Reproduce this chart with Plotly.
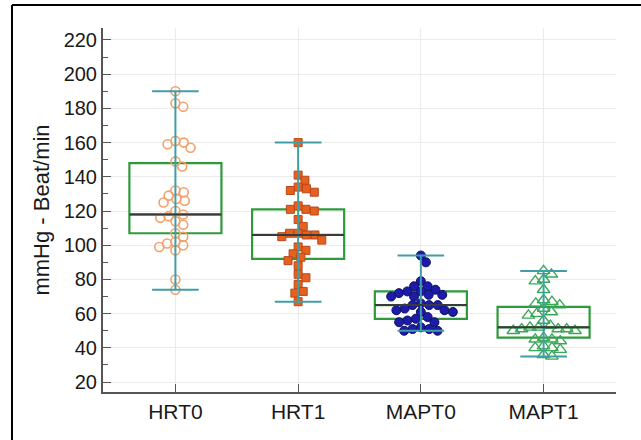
import math
import plotly.graph_objects as go

categories = ["HRT0", "HRT1", "MAPT0", "MAPT1"]

hrt0 = [190, 183, 181, 161, 160, 159, 157, 149, 146, 132, 131, 129, 127, 126, 125,
        120, 118, 117, 116, 114, 112, 107, 105, 102, 101, 100, 99, 97, 80, 74]
hrt1 = [160, 141, 138, 134, 133, 132, 131, 123, 121, 121, 120, 115, 111, 107, 107,
        106, 106, 105, 103, 99, 97, 95, 93, 91, 88, 83, 81, 77, 73, 72, 67]
mapt0 = [94, 90, 79, 76, 76, 74, 73, 73, 72, 71, 71, 70, 70, 66, 65, 65, 65, 63, 62,
         62, 61, 61, 58, 57, 56, 55, 55, 52, 51, 51, 50, 50]
mapt1 = [85, 83, 80, 79, 74, 68, 67, 66, 65, 63, 61, 60, 59, 56, 53, 52, 52, 51, 51,
         51, 50, 50, 46, 45, 45, 44, 41, 40, 40, 39, 36, 35]

# box statistics as drawn
lower_whisker = [74, 67, 50, 35]
q1_vals = [107, 92, 57, 46]
median_vals = [118, 106, 65, 52]
q3_vals = [148, 121, 73, 64]
upper_whisker = [190, 160, 94, 85]

series = [hrt0, hrt1, mapt0, mapt1]

# pixel scale (for swarm layout only)
PX_PER_X = 122.5
PX_PER_Y = 1.71
DIAM = 8.5


def swarm(values, center):
    placed = []
    out = []
    for v in values:
        y = v * PX_PER_Y
        cands = [0.0]
        for px, py in placed:
            dy = abs(py - y)
            if dy < DIAM:
                dx = math.sqrt(DIAM * DIAM - dy * dy)
                cands += [px + dx, px - dx]
        cands.sort(key=lambda c: (abs(c), -c))
        chosen = 0.0
        for c in cands:
            if all((c - px) ** 2 + (y - py) ** 2 >= DIAM * DIAM - 1e-6 for px, py in placed):
                chosen = c
                break
        placed.append((chosen, y))
        out.append(center + chosen / PX_PER_X)
    return out


marker_styles = [
    dict(symbol="circle-open", size=9, color="#f4a06a", line=dict(width=1.6, color="#f4a06a")),
    dict(symbol="square", size=8, color="#e8601e", line=dict(width=1, color="#b8481a")),
    dict(symbol="circle", size=9, color="#1c1ca8", line=dict(width=1, color="#10106a")),
    dict(symbol="triangle-up-open", size=11, color="#3aa85a", line=dict(width=1.4, color="#3aa85a")),
]

fig = go.Figure()

for i, vals in enumerate(series):
    fig.add_trace(go.Scatter(
        x=swarm(vals, i), y=vals, mode="markers", marker=marker_styles[i],
        showlegend=False, hoverinfo="y"))

xs = list(range(len(categories)))
fig.add_trace(go.Box(
    x=xs, q1=q1_vals, median=median_vals, q3=q3_vals,
    lowerfence=q1_vals, upperfence=q3_vals,
    width=0.75, whiskerwidth=0, boxpoints=False,
    line=dict(color="#2f9a3c", width=2.2), fillcolor="rgba(0,0,0,0)",
    showlegend=False, hoverinfo="skip"))

# whiskers
wx, wy = [], []
cap = 0.19
for i in xs:
    wx += [i, i, None, i - cap, i + cap, None, i - cap, i + cap, None]
    wy += [lower_whisker[i], upper_whisker[i], None,
           lower_whisker[i], lower_whisker[i], None,
           upper_whisker[i], upper_whisker[i], None]
fig.add_trace(go.Scatter(x=wx, y=wy, mode="lines", line=dict(color="#3f9ea8", width=2),
                         showlegend=False, hoverinfo="skip"))

# medians
mx, my = [], []
for i in xs:
    mx += [i - 0.375, i + 0.375, None]
    my += [median_vals[i], median_vals[i], None]
fig.add_trace(go.Scatter(x=mx, y=my, mode="lines", line=dict(color="#3a3a3a", width=2),
                         showlegend=False, hoverinfo="skip"))

font_family = "Liberation Sans, Arial, sans-serif"
fig.update_layout(
    width=641, height=440,
    margin=dict(l=103, r=25, t=28, b=48),
    paper_bgcolor="white", plot_bgcolor="white",
    font=dict(family=font_family, color="#1a1a1a"),
    xaxis=dict(
        range=[-0.59, 3.59], tickmode="array", tickvals=xs, ticktext=categories,
        showgrid=True, gridcolor="#ebebeb", gridwidth=1, zeroline=False,
        showline=True, linecolor="#555", linewidth=2,
        ticks="inside", ticklen=8, tickcolor="#555", tickwidth=1,
        tickfont=dict(size=21, family=font_family, color="#1a1a1a"),
    ),
    yaxis=dict(
        range=[14.2, 227], tick0=20, dtick=20,
        showgrid=True, gridcolor="#ebebeb", gridwidth=1, zeroline=False,
        showline=True, linecolor="#555", linewidth=2,
        ticks="inside", ticklen=8, tickcolor="#555", tickwidth=1,
        minor=dict(dtick=10, ticks="inside", ticklen=5, tickcolor="#555", showgrid=False),
        tickfont=dict(size=20, family=font_family, color="#1a1a1a"),
        title=dict(text="mmHg - Beat/min", font=dict(size=22, family=font_family, color="#1a1a1a"),
                   standoff=8),
    ),
    shapes=[
        dict(type="line", xref="paper", yref="paper", x0=-0.1774, x1=1.2,
             y0=1.063, y1=1.063, line=dict(color="black", width=2), layer="below"),
        dict(type="line", xref="paper", yref="paper", x0=-0.1774, x1=-0.1774,
             y0=-0.3, y1=1.063, line=dict(color="black", width=2), layer="below"),
    ],
)

fig.write_html("out.html", config={"displayModeBar": False},
               post_script="document.body.style.margin='0';document.body.style.overflow='hidden';")
